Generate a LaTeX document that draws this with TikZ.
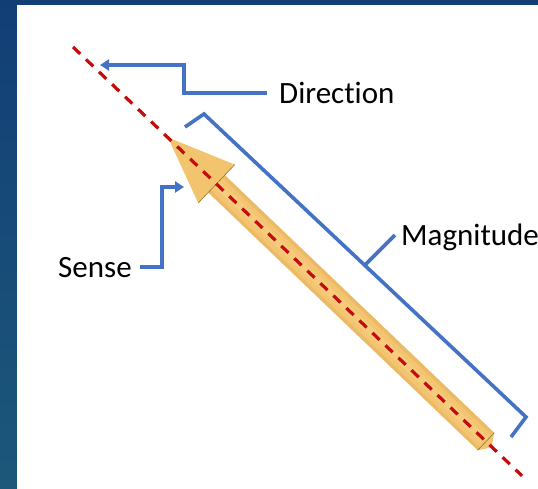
\documentclass[tikz,border=0pt]{standalone}
\usepackage{fontspec}
\setmainfont{Carlito}[Ligatures={NoCommon}]
\usetikzlibrary{arrows.meta,calc}
\definecolor{bgtop}{RGB}{18,62,118}
\definecolor{bgbot}{RGB}{28,88,122}
\definecolor{conblue}{RGB}{68,114,196}
\definecolor{dashred}{RGB}{196,12,12}
\definecolor{shaftedge}{RGB}{236,186,100}
\definecolor{shaftmid}{RGB}{243,197,114}
\definecolor{shaftlight}{RGB}{246,204,124}
\definecolor{headfill}{RGB}{242,196,110}
\definecolor{headdark}{RGB}{150,115,55}
\tikzset{
  lbl/.style={font=\fontsize{31}{36}\selectfont, inner sep=0pt, text height=20pt, text depth=0pt, anchor=west, text=black},
  conn/.style={draw=conblue, line width=3.4pt, line join=miter},
  connarrow/.style={conn, -{Triangle[length=9pt,width=11pt]}},
  bracket/.style={draw=conblue, line width=3.6pt, line join=miter},
  axis/.style={draw=dashred, line width=3.2pt, dash pattern=on 10pt off 8pt},
}
\begin{document}
\begin{tikzpicture}[x=1pt,y=-1pt]
\useasboundingbox (0,0) rectangle (538,488);
% background frame
\fill[top color=bgtop, bottom color=bgbot] (0,0) rectangle (538,488);
\fill[white] (17,5) rectangle (540,490);

% arrow geometry
\coordinate (tip) at (168,137.5);
\coordinate (hb1) at (234.8,164.6);
\coordinate (hb2) at (198.2,203.0);
\coordinate (sb) at (216.5,183.8);
\coordinate (s1) at (224.8,175.1);
\coordinate (s2) at (208.2,192.5);
\coordinate (se) at (486,441.5);
\coordinate (e1) at (494.3,432.8);
\coordinate (e2) at (477.7,450.2);
\coordinate (tail) at (491.5,447.5);

% shaft
\fill[shaftedge] (s1) -- (e1) -- (e2) -- (s2) -- cycle;
\draw[shaftmid, line width=17pt] (sb) -- (se);
\draw[shaftlight, line width=8pt] (sb) -- (se);
\fill[shaftmid] (e1) -- (tail) -- (e2) -- cycle;
\draw[headdark, line width=0.6pt] (e1) -- (e2);
% head
\fill[headfill] (tip) -- (hb1) -- (hb2) -- cycle;
\draw[headdark, line width=0.6pt] (hb1) -- (hb2);

% axis line
\coordinate (axA) at (73,47);
\coordinate (axB) at (522,475.8);
\draw[axis] (axA) -- (axB);

% labels
\node[lbl] (dir) at (279,93) {Direction};
\node[lbl] (sense) at (58,267) {Sense};
\node[lbl] (mag) at (401,235) {Magnitude};

% direction connector
\coordinate (dirT) at (100,65);
\draw[connarrow] ([xshift=-12pt]dir.west) -- (184,93) -- (184,65) -- (dirT);

% sense connector
\coordinate (senT) at (184,187);
\draw[connarrow] ([xshift=8pt]sense.east) -- (162,267) -- (162,187) -- (senT);

% magnitude bracket
\coordinate (m1) at (185,127);
\coordinate (m2) at (204,114);
\coordinate (m3) at (526,417);
\coordinate (m4) at (511,437);
\coordinate (mmid) at (365,265);
\draw[bracket] (m1) -- (m2) -- (m3) -- (m4);
\draw[bracket] (mmid) -- ([xshift=-6pt]mag.west);
\end{tikzpicture}
\end{document}
